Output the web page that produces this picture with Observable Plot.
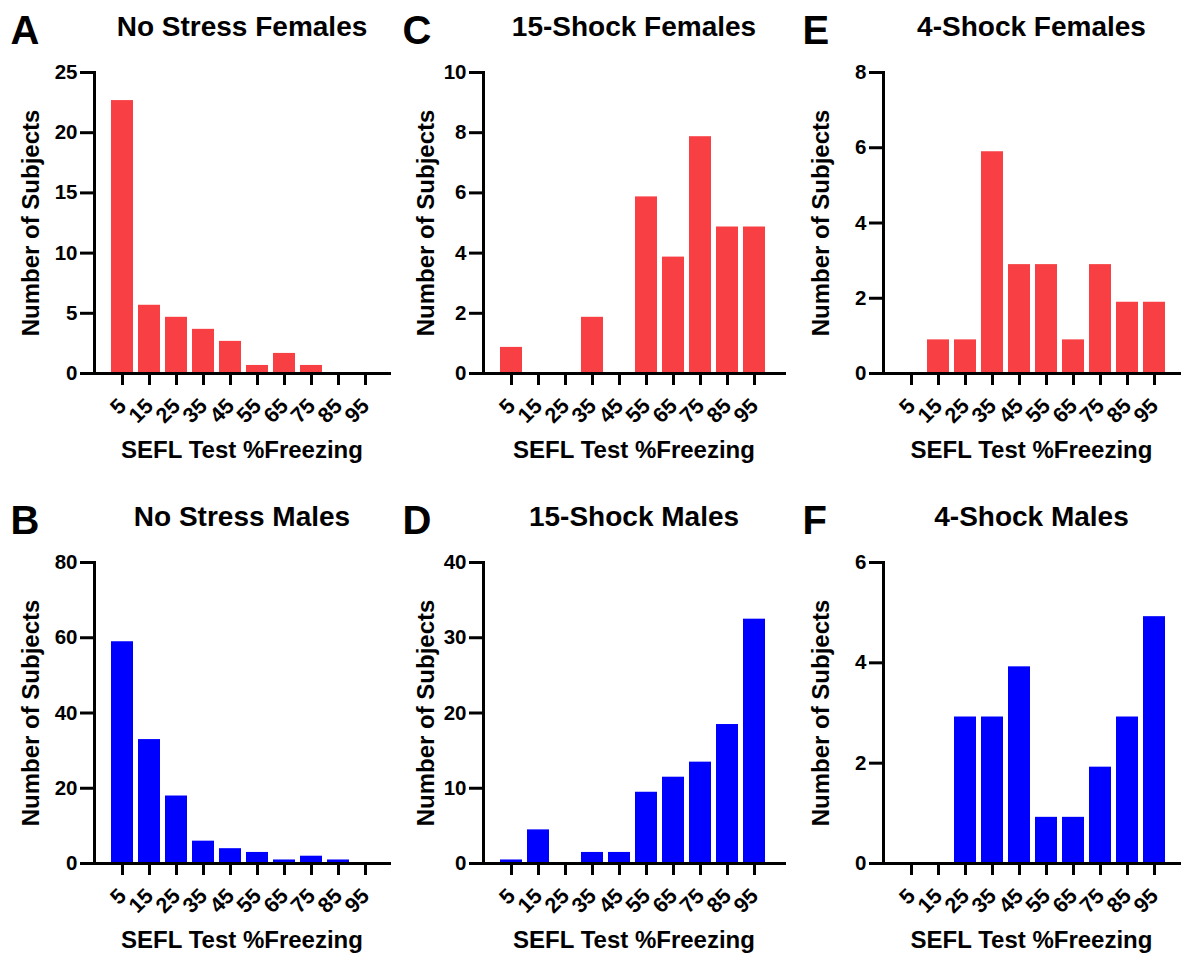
<!DOCTYPE html>
<html>
<head>
<meta charset="utf-8">
<script src="https://cdn.jsdelivr.net/npm/d3@7"></script>
<script src="https://cdn.jsdelivr.net/npm/@observablehq/plot@0.6"></script>
<style>
  body { margin: 0; background: #fff; }
  #wrap { position: relative; width: 1183px; height: 956px; overflow: hidden; }
  .panel { position: absolute; }
</style>
</head>
<body>
<div id="wrap"></div>
<script>
// ---- data ----
const bins = ["5", "15", "25", "35", "45", "55", "65", "75", "85", "95"];
const noStressFemales = [23, 6, 5, 4, 3, 1, 2, 1, 0, 0];
const noStressMales   = [60, 34, 19, 7, 5, 4, 2, 3, 2, 0];
const shock15Females  = [1, 0, 0, 2, 0, 6, 4, 8, 5, 5];
const shock15Males    = [1, 5, 0, 2, 2, 10, 12, 14, 19, 33];
const shock4Females   = [0, 1, 1, 6, 3, 3, 1, 3, 2, 2];
const shock4Males     = [0, 0, 3, 3, 4, 1, 1, 2, 3, 5];

const panelLetters = ["A", "B", "C", "D", "E", "F"];
const panelTitles = ["No Stress Females", "No Stress Males", "15-Shock Females", "15-Shock Males", "4-Shock Females", "4-Shock Males"];
const panelSeries = [noStressFemales, noStressMales, shock15Females, shock15Males, shock4Females, shock4Males];
const yMax = [25, 80, 10, 40, 8, 6];
const yStep = [5, 20, 2, 10, 2, 2];
const xLabel = "SEFL Test %Freezing";
const yLabel = "Number of Subjects";

const RED = "#f84044";
const BLUE = "#0000ff";

// ---- layout ----
const colLeft = [0, 395, 790];
const colMarginLeft = [94, 88, 93];
const colLetterX = [10, 7, 12];
const rowTop = [0, 490];
const rowHeight = [470, 466];

const wrap = document.getElementById("wrap");
const FONT = "'Liberation Sans', Arial, Helvetica, sans-serif";

panelSeries.forEach((values, i) => {
  const col = Math.floor(i / 2), row = i % 2;
  const W = 393, H = rowHeight[row];
  const ml = colMarginLeft[col], mr = 4, mt = 72, mb = H - 373;
  const innerW = W - ml - mr;
  const bandStart = 12.7, step = 27.33;
  const data = bins.map((b, j) => ({bin: b, n: values[j]}));
  const ticks = d3.range(0, yMax[i] + 0.001, yStep[i]);
  const color = row === 0 ? RED : BLUE;

  const chart = Plot.plot({
    width: W,
    height: H,
    marginLeft: ml,
    marginRight: mr,
    marginTop: mt,
    marginBottom: mb,
    style: {fontFamily: FONT, fontWeight: "bold", fontSize: "20px", color: "#000", background: "#fff", overflow: "visible"},
    x: {type: "band", domain: bins, paddingInner: 0.2, paddingOuter: 0.1,
        insetLeft: bandStart, insetRight: innerW - bandStart - 10 * step},
    y: {domain: [0, yMax[i]]},
    marks: [
      Plot.barY(data, {x: "bin", y: "n", fill: color, insetTop: 4}),
      Plot.frame({anchor: "left", strokeWidth: 3}),
      Plot.frame({anchor: "bottom", strokeWidth: 3}),
      Plot.axisY({ticks, tickFormat: d => String(d), tickSize: 14, tickPadding: 3, strokeWidth: 3, fontSize: 20.5, label: null}),
      Plot.axisX({tickSize: 12, tickRotate: -45, tickPadding: 17, strokeWidth: 3, fontSize: 21.5, label: null}),
      Plot.text([panelTitles[i]], {text: d => d, frameAnchor: "top", dy: 35 - mt, lineAnchor: "bottom", fontSize: 28, fontWeight: "bold"}),
      Plot.text([panelLetters[i]], {text: d => d, frameAnchor: "top-left", dx: colLetterX[col] - ml, dy: 43 - mt, textAnchor: "start", lineAnchor: "bottom", fontSize: 40, fontWeight: "bold"}),
      Plot.text([yLabel], {text: d => d, frameAnchor: "left", rotate: -90, dx: 38 - ml, textAnchor: "middle", lineAnchor: "bottom", fontSize: 24, fontWeight: "bold"}),
      Plot.text([xLabel], {text: d => d, frameAnchor: "bottom", dy: 84, textAnchor: "middle", lineAnchor: "bottom", fontSize: 24, fontWeight: "bold"})
    ]
  });

  const div = document.createElement("div");
  div.className = "panel";
  div.style.left = colLeft[col] + "px";
  div.style.top = rowTop[row] + "px";
  div.appendChild(chart);
  wrap.appendChild(div);
});
</script>
</body>
</html>
